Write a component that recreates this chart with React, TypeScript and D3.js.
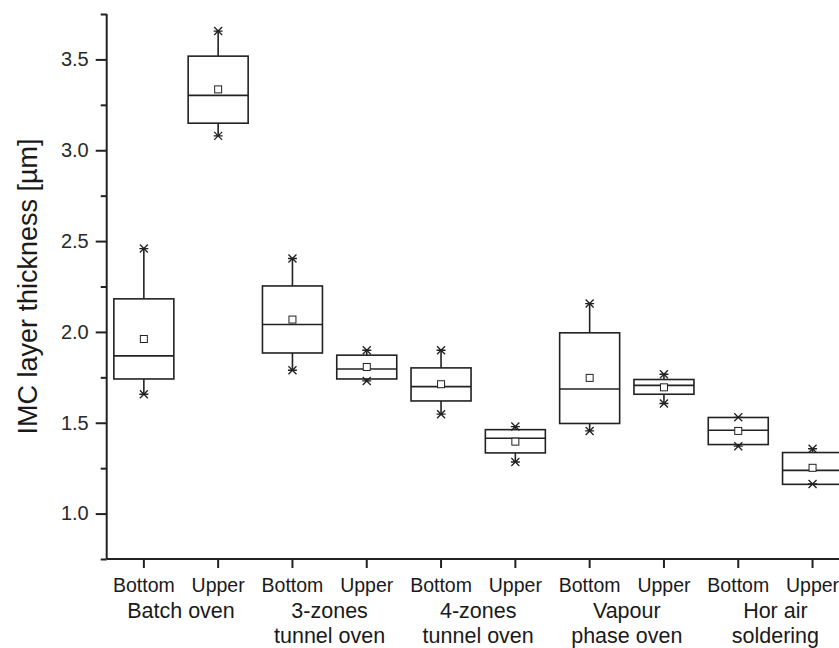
import React, { useEffect, useRef } from "react";
import * as d3 from "d3";

// ovens (groups) and the two board sides measured in each
const ovens = ["Batch oven", "3-zones\ntunnel oven", "4-zones\ntunnel oven", "Vapour\nphase oven", "Hor air\nsoldering"];
const sides = ["Bottom", "Upper"];

// box statistics, one value per box (oven x side)
const maxVals = [2.459, 3.656, 2.404, 1.899, 1.899, 1.479, 2.156, 1.767, 1.530, 1.357];
const q3Vals = [2.182, 3.518, 2.253, 1.872, 1.802, 1.462, 1.995, 1.738, 1.529, 1.336];
const medianVals = [1.868, 3.302, 2.041, 1.796, 1.699, 1.415, 1.686, 1.706, 1.459, 1.238];
const meanVals = [1.961, 3.335, 2.068, 1.807, 1.712, 1.396, 1.747, 1.695, 1.455, 1.252];
const q1Vals = [1.741, 3.149, 1.884, 1.741, 1.620, 1.334, 1.496, 1.657, 1.380, 1.161];
const minVals = [1.657, 3.079, 1.789, 1.730, 1.547, 1.284, 1.455, 1.606, 1.371, 1.163];

const majorTicks = [1.0, 1.5, 2.0, 2.5, 3.0, 3.5];
const minorTicks = [0.75, 1.25, 1.75, 2.25, 2.75, 3.25, 3.75];

const W = 839;
const H = 648;
const margin = { top: 14, left: 106.7, bottom: 89 };
const ink = "#222";
const font = "'Liberation Sans', Arial, sans-serif";

export default function App() {
  const ref = useRef<SVGSVGElement>(null);

  useEffect(() => {
    const svg = d3.select(ref.current);
    svg.selectAll("*").remove();

    const n = ovens.length * sides.length;
    const step = 74.3;
    const x = d3.scaleBand<number>()
      .domain(d3.range(n))
      .range([margin.left, margin.left + step * n])
      .padding(0);
    const bw = x.bandwidth();
    const cx = (i: number) => (x(i) as number) + bw / 2;

    const y = d3.scaleLinear()
      .domain([0.75, 3.75])
      .range([H - margin.bottom, margin.top]);

    const boxHalf = 30;

    // axes
    const yMajor = svg.append("g")
      .attr("transform", `translate(${margin.left},0)`)
      .call(d3.axisLeft(y).tickValues(majorTicks).tickSize(11).tickPadding(7).tickFormat(d3.format(".1f")));
    yMajor.select(".domain").remove();
    yMajor.selectAll("line").attr("stroke", ink).attr("stroke-width", 2);
    yMajor.selectAll("text")
      .attr("fill", "#2a2a2a")
      .style("font-family", font)
      .style("font-size", "20px");

    const yMinor = svg.append("g")
      .attr("transform", `translate(${margin.left},0)`)
      .call(d3.axisLeft(y).tickValues(minorTicks).tickSize(6).tickFormat(() => ""));
    yMinor.select(".domain").remove();
    yMinor.selectAll("line").attr("stroke", ink).attr("stroke-width", 2);

    svg.append("line")
      .attr("x1", margin.left).attr("x2", margin.left)
      .attr("y1", y(3.75)).attr("y2", y(0.75))
      .attr("stroke", ink).attr("stroke-width", 2);

    const xAxis = svg.append("g")
      .attr("transform", `translate(0,${y(0.75)})`)
      .call(d3.axisBottom(x).tickSize(9).tickSizeOuter(0).tickFormat(() => ""));
    xAxis.select(".domain").remove();
    xAxis.selectAll("line").attr("stroke", ink).attr("stroke-width", 2);

    svg.append("line")
      .attr("x1", margin.left).attr("x2", W)
      .attr("y1", y(0.75)).attr("y2", y(0.75))
      .attr("stroke", ink).attr("stroke-width", 2);

    // x labels
    svg.append("g")
      .selectAll("text")
      .data(d3.range(n))
      .join("text")
      .attr("x", i => cx(i))
      .attr("y", 592)
      .attr("text-anchor", "middle")
      .attr("fill", "#1a1a1a")
      .style("font-family", font)
      .style("font-size", "19.5px")
      .text(i => sides[i % sides.length]);

    const groupText = svg.append("g")
      .selectAll("text")
      .data(ovens)
      .join("text")
      .attr("text-anchor", "middle")
      .attr("fill", "#1a1a1a")
      .style("font-family", font)
      .style("font-size", "21.5px");
    groupText.each(function (d, g) {
      const gx = (cx(g * 2) + cx(g * 2 + 1)) / 2;
      d3.select(this).selectAll("tspan")
        .data(d.split("\n"))
        .join("tspan")
        .attr("x", gx)
        .attr("y", (_, k) => 618 + k * 25)
        .text(t => t);
    });

    // y label
    svg.append("text")
      .attr("transform", `translate(37,286.5) rotate(-90)`)
      .attr("text-anchor", "middle")
      .attr("fill", "#1a1a1a")
      .style("font-family", font)
      .style("font-size", "27px")
      .text("IMC layer thickness [µm]");

    // boxes
    const boxes = svg.append("g")
      .selectAll("g")
      .data(d3.range(n))
      .join("g")
      .attr("transform", i => `translate(${cx(i)},0)`);

    boxes.append("line")
      .attr("y1", i => y(q3Vals[i])).attr("y2", i => y(maxVals[i]))
      .attr("stroke", ink).attr("stroke-width", 1.6);
    boxes.append("line")
      .attr("y1", i => y(q1Vals[i])).attr("y2", i => y(minVals[i]))
      .attr("stroke", ink).attr("stroke-width", 1.6);

    boxes.append("rect")
      .attr("x", -boxHalf)
      .attr("width", boxHalf * 2)
      .attr("y", i => y(q3Vals[i]))
      .attr("height", i => y(q1Vals[i]) - y(q3Vals[i]))
      .attr("fill", "none")
      .attr("stroke", ink)
      .attr("stroke-width", 1.6);

    boxes.append("line")
      .attr("x1", -boxHalf).attr("x2", boxHalf)
      .attr("y1", i => y(medianVals[i])).attr("y2", i => y(medianVals[i]))
      .attr("stroke", ink).attr("stroke-width", 1.6);

    boxes.append("rect")
      .attr("x", -3.5)
      .attr("y", i => y(meanVals[i]) - 3.5)
      .attr("width", 7).attr("height", 7)
      .attr("fill", "white")
      .attr("stroke", ink)
      .attr("stroke-width", 1);

    const star = "M-4,-4L4,4M-4,4L4,-4M-4.5,0L4.5,0";
    boxes.append("path")
      .attr("d", star)
      .attr("transform", i => `translate(0,${y(maxVals[i])})`)
      .attr("stroke", ink).attr("stroke-width", 1.3).attr("fill", "none");
    boxes.append("path")
      .attr("d", star)
      .attr("transform", i => `translate(0,${y(minVals[i])})`)
      .attr("stroke", ink).attr("stroke-width", 1.3).attr("fill", "none");
  }, []);

  return (
    <svg
      ref={ref}
      width={W}
      height={H}
      style={{ position: "absolute", left: 0, top: 0, background: "white" }}
    />
  );
}
